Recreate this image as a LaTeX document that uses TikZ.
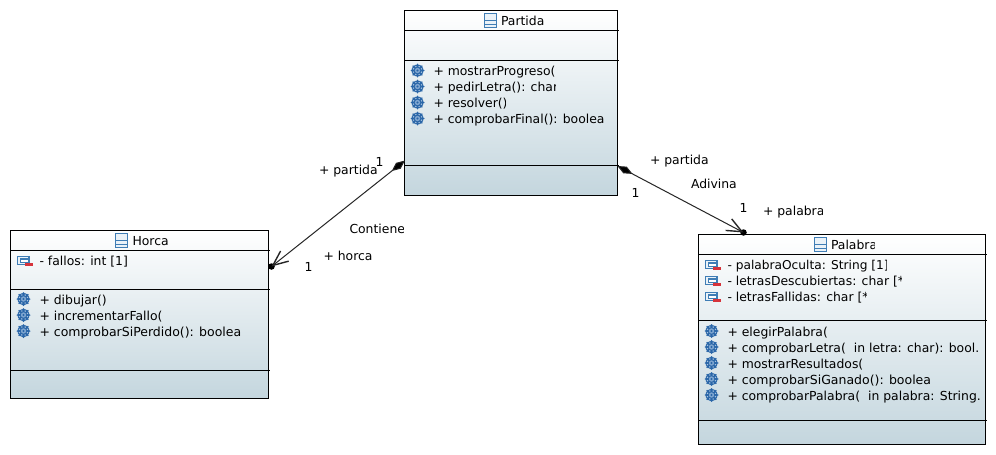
\documentclass[tikz,border=0pt]{standalone}
\usepackage{fontspec}
\setmainfont{DejaVu Sans}
\usetikzlibrary{arrows.meta}
\definecolor{edgeblue}{HTML}{3F7DB5}
\definecolor{gearblue}{HTML}{2A66A8}
\definecolor{gearmid}{HTML}{7FA6D0}
\definecolor{gearlight}{HTML}{A9C4E0}
\definecolor{minusred}{HTML}{D6333B}
\definecolor{boxbottom}{HTML}{C4D6DE}
\definecolor{iconfill}{HTML}{EAF2F8}
\newcommand{\widerfont}{\fontsize{12.5}{14}\selectfont}
\newcommand{\narrowfont}{\fontsize{12.2}{14}\selectfont}
\tikzset{
  umlbox/.style={draw=black,line width=1pt,rectangle,inner sep=0pt,top color=white,bottom color=boxbottom,shading angle=0},
  sep/.style={draw=black,line width=1pt},
  txtnode/.style={anchor=base west,inner sep=0pt,outer sep=0pt,text=black,font=\fontsize{12.4}{14}\selectfont},
  assoc/.style={draw=black!85,line width=1pt,{Diamond[length=17pt,width=7.5pt,fill=black]}-{Straight Barb[length=15pt,width=13pt,line width=1.4pt]}},
  dotend/.style={circle,fill=black,inner sep=0pt,minimum size=6.5pt},
  classicon/.style={draw=edgeblue,line width=1.2pt,fill=iconfill,rectangle,inner sep=0pt,minimum width=12.5pt,minimum height=14pt}
}
% name, x, baseline, clip x, text
\newcommand{\cliptxt}[5]{%
  \begin{scope}\clip (#2-2,#3-14) rectangle (#4,#3+6);
  \node[txtnode] (#1) at (#2,#3) {#5};\end{scope}}
\newcommand{\gearicon}[2]{%
  \fill[gearblue] (#1,#2) circle (6pt);
  \foreach \a in {0,45,...,315}{\fill[gearblue] (#1,#2) ++(\a:6.2pt) circle (.8pt);}
  \foreach \a in {22,67,...,337}{\fill[gearlight] (#1,#2) ++(\a:4.3pt) circle (.8pt);}
  \fill[gearmid] (#1,#2) circle (2.7pt);
  \fill[gearblue] (#1,#2) circle (1.2pt);}
\newcommand{\fieldicon}[2]{%
  \draw[edgeblue,line width=1.3pt,fill=iconfill] (#1,#2) rectangle (#1+11.5,#2+8);
  \draw[edgeblue,line width=1.1pt,fill=white] (#1+3,#2+2.5) rectangle (#1+11.5,#2+6);
  \fill[minusred] (#1+7,#2+6.5) rectangle (#1+15,#2+9.5);}
\newcommand{\classglyph}[3]{%
  \node[classicon] (#1) at (#2,#3) {};
  \draw[edgeblue,line width=1.1pt] (#2-6.25,#3+.3) -- (#2+6.25,#3+.3) (#2-6.25,#3+3.6) -- (#2+6.25,#3+3.6);}
\begin{document}
\begin{tikzpicture}[x=1pt,y=-1pt]
\useasboundingbox (0,0) rectangle (996,455);
\fill[white] (0,0) rectangle (996,455);
% boxes
\node[umlbox,minimum width=213pt,minimum height=184.5pt] (partida) at (511,102.75) {};
\node[umlbox,minimum width=258pt,minimum height=168.5pt] (horca) at (139.5,314.25) {};
\node[umlbox,minimum width=287pt,minimum height=209.5pt] (palabra) at (842,339.25) {};
% separators
\draw[sep] (404.5,30.5) -- (618.5,30.5) (404.5,60.5) -- (618.5,60.5) (404.5,165) -- (618.5,165);
\draw[sep] (10.5,250.5) -- (269.5,250.5) (10.5,289.5) -- (269.5,289.5) (10.5,370.5) -- (269.5,370.5);
\draw[sep] (698.5,254.5) -- (986.5,254.5) (698.5,320.5) -- (986.5,320.5) (698.5,420.5) -- (986.5,420.5);
% titles
\classglyph{ip}{490.5}{20.5}
\cliptxt{tp}{501}{25}{543}{Partida}
\classglyph{ih}{121.5}{240.5}
\cliptxt{th}{132.5}{245}{170}{Horca}
\classglyph{ipa}{820.5}{244.5}
\cliptxt{tpa}{831}{249}{874}{Palabra}
% Partida methods
\foreach \y in {70.5,86.5,102.5,118.5}{\gearicon{417.5}{\y}}
\cliptxt{p1}{433.5}{75}{556.5}{+ mostrarProgreso(}
\cliptxt{p2}{433.5}{91}{555}{+ pedirLetra(): char}
\cliptxt{p3}{433.5}{107}{505}{+ resolver()}
\cliptxt{p4}{433.5}{123}{606}{+ comprobarFinal(): boolea}
% Horca
\fieldicon{17.5}{256.5}
\cliptxt{h1}{39.5}{265}{200}{- fallos: int [1]}
\foreach \y in {299,315,331}{\gearicon{23.5}{\y}}
\cliptxt{h2}{39.5}{304}{150}{+ dibujar()}
\cliptxt{h3}{39.5}{320}{163}{+ incrementarFallo(}
\cliptxt{h4}{39.5}{336}{242}{\widerfont + comprobarSiPerdido(): boolea}
% Palabra
\fieldicon{705.5}{260.5}
\fieldicon{705.5}{276.5}
\fieldicon{705.5}{292.5}
\cliptxt{a1}{727.5}{269}{886.5}{\narrowfont - palabraOculta: String [1]}
\cliptxt{a2}{727.5}{285}{901.5}{- letrasDescubiertas: char [*}
\cliptxt{a3}{727.5}{301}{866}{- letrasFallidas: char [*}
\foreach \y in {331,347,363,379,395}{\gearicon{711.5}{\y}}
\cliptxt{m1}{727.5}{336}{830}{+ elegirPalabra(}
\cliptxt{m2}{727.5}{352}{977}{+ comprobarLetra(\hspace{4pt} in letra: char): bool.}
\cliptxt{m3}{727.5}{368}{865}{+ mostrarResultados(}
\cliptxt{m4}{727.5}{384}{932}{\widerfont + comprobarSiGanado(): boolea}
\cliptxt{m5}{727.5}{400}{981.5}{+ comprobarPalabra(\hspace{4pt} in palabra: String.}
% connectors
\coordinate (pL) at (405,160.5);
\coordinate (pR) at (617.5,166);
\node[dotend] (dh) at (271.5,266.5) {};
\node[dotend] (dp) at (743.5,232.5) {};
\draw[assoc] (pL) -- (dh.center);
\draw[assoc] (pR) -- (dp.center);
% labels
\cliptxt{l1}{319}{174}{379}{+ partida}
\cliptxt{l2}{375.5}{166}{384}{1}
\cliptxt{l3}{349.5}{233}{403}{Contiene}
\cliptxt{l4}{323.5}{260}{375}{+ horca}
\cliptxt{l5}{304.5}{271}{313}{1}
\cliptxt{l6}{650}{164}{711}{+ partida}
\cliptxt{l7}{691}{188}{736}{Adivina}
\cliptxt{l8}{631.5}{197}{640}{1}
\cliptxt{l9}{739.5}{212}{748}{1}
\cliptxt{l10}{763}{215}{822.5}{+ palabra}
\end{tikzpicture}
\end{document}
